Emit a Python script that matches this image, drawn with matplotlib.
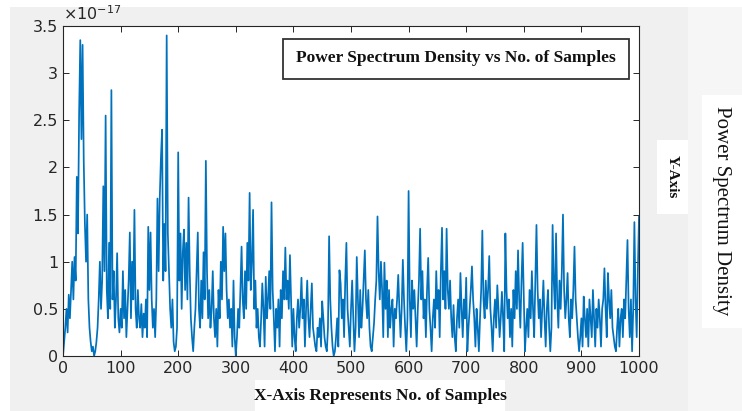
import numpy as np
import matplotlib
matplotlib.use("Agg")
import matplotlib.pyplot as plt
from matplotlib.patches import Rectangle
from matplotlib.ticker import FuncFormatter, MultipleLocator

# PSD values (x 1e-17), one every 2 samples, 20 samples per row
sample_step = 2
psd = [
    0.0, 0.15, 0.3, 0.5, 0.25, 0.65, 0.4, 0.7, 1.0, 0.6,
    1.05, 0.8, 1.9, 1.3, 2.58, 3.35, 2.3, 3.3, 2.07, 1.4,
    1.0, 1.5, 0.6, 0.3, 0.15, 0.05, 0.1, 0.0, 0.05, 0.15,
    0.3, 0.6, 1.0, 0.5, 0.8, 1.8, 0.9, 2.55, 0.7, 0.4,
    1.2, 0.5, 2.82, 0.6, 0.9, 0.3, 0.6, 1.09, 0.4, 0.25,
    0.5, 0.3, 0.9, 0.4, 0.7, 0.2, 0.5, 0.8, 1.31, 0.4,
    1.0, 0.6, 1.55, 0.5, 0.3, 0.7, 0.4, 0.3, 0.55, 0.2,
    0.45, 0.3, 0.6, 0.2, 1.37, 0.7, 1.31, 0.6, 0.3, 0.5,
    0.2, 0.6, 1.67, 0.9, 1.68, 2.1, 2.4, 0.8, 1.4, 0.9,
    3.4, 1.3, 0.9, 0.5, 0.3, 0.6, 0.15, 0.05, 0.1, 0.3,
    2.16, 0.8, 1.3, 0.5, 1.1, 1.34, 0.7, 1.2, 0.6, 1.68,
    0.9, 0.4, 0.2, 0.05, 0.3, 0.5, 0.9, 1.31, 0.5, 0.3,
    0.8, 0.4, 1.1, 0.6, 2.07, 0.9, 0.4, 0.7, 0.3, 0.5,
    0.9, 0.4, 0.2, 0.5, 0.1, 0.7, 0.4, 1.0, 0.6, 1.37,
    0.9, 1.3, 0.7, 0.4, 0.6, 0.3, 0.5, 0.1, 0.8, 0.2,
    0.0, 0.2, 0.5, 0.3, 0.7, 1.16, 0.6, 0.4, 0.9, 0.5,
    1.2, 0.8, 1.73, 0.7, 1.0, 1.55, 0.5, 0.8, 0.3, 0.5,
    0.2, 0.1, 0.4, 0.77, 0.5, 0.1, 0.84, 0.4, 0.6, 0.9,
    0.5, 1.63, 0.7, 0.4, 0.05, 0.5, 0.3, 0.6, 0.1, 0.7,
    0.4, 0.9, 0.6, 1.15, 0.6, 0.8, 0.5, 1.07, 0.6, 0.1,
    0.5, 0.2, 0.05, 0.4, 0.6, 0.3, 0.5, 0.83, 0.4, 0.6,
    0.1, 0.5, 0.8, 0.4, 0.2, 0.5, 0.77, 0.3, 0.2, 0.1,
    0.05, 0.3, 0.2, 0.4, 0.1, 0.58, 0.4, 0.2, 0.1, 0.05,
    0.3, 1.27, 0.6, 0.3, 0.1, 0.0, 0.05, 0.2, 0.4, 0.1,
    0.91, 0.77, 0.4, 0.6, 0.2, 0.8, 1.2, 0.5, 0.3, 0.1,
    0.5, 0.8, 0.4, 0.05, 0.3, 1.05, 0.6, 0.2, 0.7, 0.3,
    0.5, 0.8, 1.12, 0.6, 0.4, 0.7, 0.3, 0.1, 0.05, 0.2,
    0.35, 0.6, 0.8, 1.48, 0.9, 0.6, 1.0, 0.7, 0.2, 0.99,
    0.5, 0.8, 0.2, 0.7, 0.3, 0.5, 0.6, 0.1, 0.5, 0.4,
    0.6, 0.86, 0.5, 0.2, 0.5, 1.02, 0.6, 0.3, 0.05, 0.4,
    1.75, 0.6, 0.2, 0.8, 0.5, 0.7, 0.4, 0.1, 0.5, 0.8,
    1.35, 0.6, 0.9, 0.4, 0.6, 0.2, 0.7, 1.04, 0.5, 0.3,
    0.05, 0.4, 0.6, 0.3, 0.9, 0.5, 0.7, 0.2, 0.9, 1.36,
    0.6, 0.9, 0.5, 1.35, 0.7, 0.5, 0.8, 0.4, 0.2, 0.54,
    0.2, 0.05, 0.4, 0.6, 0.3, 0.88, 0.5, 0.2, 0.6, 0.4,
    0.83, 0.05, 0.3, 0.5, 0.7, 0.95, 0.6, 0.4, 0.1, 0.5,
    0.3, 0.05, 0.4, 0.7, 1.33, 0.6, 0.4, 0.8, 0.5, 0.7,
    1.06, 0.5, 0.3, 0.05, 0.4, 0.6, 0.3, 0.75, 0.5, 0.2,
    0.4, 0.68, 0.4, 0.05, 1.3, 0.7, 0.4, 0.6, 0.2, 0.5,
    0.1, 0.7, 0.4, 0.9, 0.5, 1.12, 0.6, 0.3, 0.8, 1.2,
    0.6, 0.05, 0.3, 0.5, 0.2, 0.7, 0.4, 0.9, 0.5, 0.2,
    0.8, 1.39, 0.7, 0.4, 0.6, 0.2, 0.5, 0.8, 0.4, 0.1,
    0.5, 0.7, 0.3, 0.05, 0.3, 1.39, 0.8, 0.5, 1.3, 0.6,
    0.3, 0.8, 0.5, 0.9, 1.5, 0.7, 0.4, 0.6, 0.88, 0.4,
    0.2, 0.6, 0.4, 0.7, 1.16, 0.6, 0.4, 0.2, 0.05, 0.2,
    0.4, 0.1, 0.63, 0.4, 0.2, 0.5, 0.1, 0.6, 0.4, 0.2,
    0.7, 0.4, 0.1, 0.5, 0.3, 0.6, 0.4, 0.1, 0.5, 0.6,
    0.93, 0.5, 0.2, 0.88, 0.6, 0.4, 0.7, 0.3, 0.2, 0.1,
    0.05, 0.3, 0.5, 0.1, 0.4, 0.5, 0.2, 0.6, 0.4, 0.8,
    1.23, 0.5, 0.2, 0.6, 0.05, 0.5, 1.42, 0.6, 0.2, 0.9,
    1.48,
]
samples = np.arange(len(psd)) * sample_step
x_ticks = list(range(0, 1001, 100))

title_text = "Power Spectrum Density vs No. of Samples"
xlabel_text = "X-Axis Represents No. of Samples"
ylabel_small = "Y-Axis"
ylabel_big = "Power Spectrum Density"

W, H = 742, 411
fig = plt.figure(figsize=(W / 100, H / 100), dpi=100, facecolor="white")

def box(x0, y0, x1, y1, color, z=0, **kw):
    # pixel coords (top-left origin) -> figure fraction
    fig.add_artist(Rectangle((x0 / W, 1 - y1 / H), (x1 - x0) / W, (y1 - y0) / H,
                             transform=fig.transFigure, facecolor=color,
                             zorder=z, **kw))

box(10, 7, 688, 411, "#f0f0f0", edgecolor="none", z=-2)
box(688, 7, 742, 411, "#f6f6f6", edgecolor="none", z=-2)
box(255, 380, 505, 411, "white", edgecolor="none", z=-1)
box(657, 140, 688, 214, "white", edgecolor="none", z=-1)
box(702, 95, 742, 328, "white", edgecolor="none", z=-1)

ax = fig.add_axes([63 / W, 1 - 356 / H, (639 - 63) / W, (356 - 26) / H])
ax.plot(samples, psd, color="#0072BD", lw=1.25)
ax.set_xlim(0, 1000)
ax.set_ylim(0, 3.5)
ax.set_xticks(x_ticks)
ax.yaxis.set_major_locator(MultipleLocator(0.5))
ax.yaxis.set_major_formatter(FuncFormatter(lambda v, p: f"{v:g}"))
ax.tick_params(direction="in", length=4, top=True, right=True,
               labelsize=11.5, colors="#262626", width=0.7)
for s in ax.spines.values():
    s.set_color("#262626")
    s.set_linewidth(0.8)

ax.text(0.0, 1.01, r"$\times10^{-17}$", transform=ax.transAxes,
        fontsize=11.5, color="#262626", ha="left", va="bottom")

# title box drawn over the plot
box(283, 39, 629, 79, "white", edgecolor="#333333", linewidth=1.3, z=3)
fig.text(456 / W, 1 - 58 / H, title_text, ha="center", va="center", zorder=4,
         family="Liberation Serif", fontweight="bold", fontsize=12.5, color="#111111")

fig.text(380 / W, 1 - 396 / H, xlabel_text, ha="center", va="center",
         family="Liberation Serif", fontweight="bold", fontsize=12.5, color="#111111")
fig.text(672 / W, 1 - 177 / H, ylabel_small, ha="center", va="center", rotation=270,
         family="Liberation Serif", fontweight="bold", fontsize=11, color="#111111")
fig.text(722 / W, 1 - 211 / H, ylabel_big, ha="center", va="center", rotation=270,
         family="Liberation Serif", fontsize=15, color="#111111")

fig.savefig("out.png", dpi=100, facecolor=fig.get_facecolor())
